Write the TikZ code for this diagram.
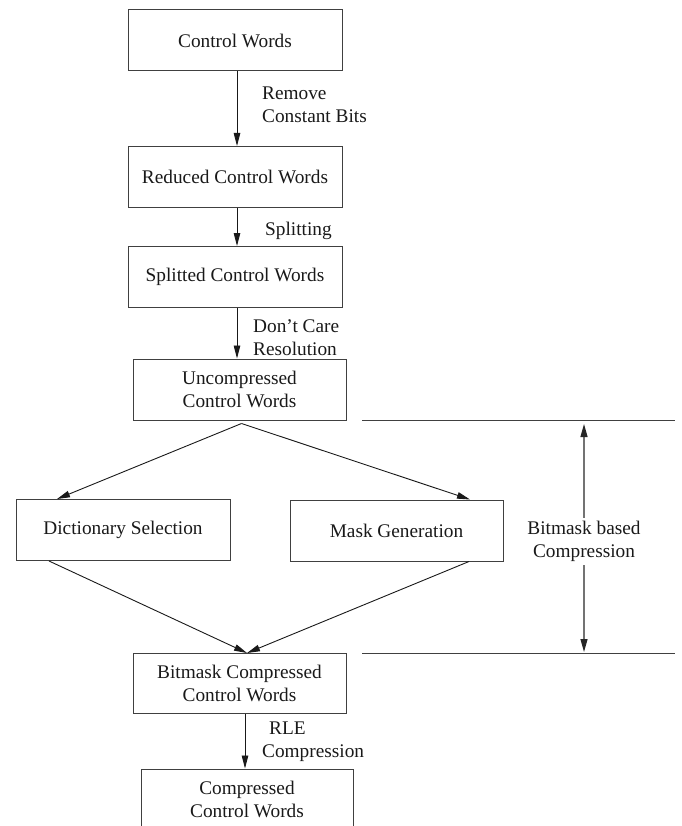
\documentclass[tikz,border=0pt]{standalone}
\usepackage{fontspec}
\setmainfont{Liberation Serif}
\usetikzlibrary{arrows.meta}
\begin{document}
\begin{tikzpicture}[x=1pt,y=-1pt,
  every node/.style={font=\fontsize{19.3}{23}\selectfont, text=black!90},
  box/.style={draw=black!75, line width=1pt, minimum width=214pt, minimum height=61pt,
              inner sep=0pt, align=center, anchor=center},
  lbl/.style={align=left, anchor=west, inner sep=0pt},
  arr/.style={draw=black!90, line width=0.9pt, -{Triangle[length=13pt,width=6.5pt]}},
  rule/.style={draw=black!75, line width=1pt},
  span/.style={draw=black!55, line width=1.2pt, -{Triangle[length=13pt,width=7pt,color=black!85]}}]
  \useasboundingbox (0,0) rectangle (681,826);
  \clip (0,0) rectangle (681,826);

  % processing chain
  \node[box] (cw)   at (235,40.5)  {Control Words};
  \node[box] (rcw)  at (235,177)   {Reduced Control Words};
  \node[box] (scw)  at (235,277)   {Splitted Control Words};
  \node[box, minimum width=213pt] (ucw)  at (239.5,389.5) {Uncompressed\\Control Words};
  \node[box] (dict) at (123,530)   {Dictionary Selection};
  \node[box, minimum width=213pt] (mask) at (396.5,530.5) {Mask Generation};
  \node[box, minimum width=213pt, minimum height=60pt] (bcw) at (239.5,683) {Bitmask Compressed\\Control Words};
  \node[box, minimum width=212pt] (ccw)  at (247,799.5) {Compressed\\Control Words};

  % step labels
  \node[lbl] (l1) at (262,104.5) {Remove\\Constant Bits};
  \node[lbl] (l2) at (265,231)   {Splitting};
  \node[lbl] (l3) at (253,338)   {Don't Care\\Resolution};
  \node[lbl] (l4) at (262,742)   {\hspace{7pt}RLE\\Compression};

  % vertical steps
  \draw[arr] ([xshift=2pt]cw.south)  -- ([xshift=2pt]rcw.north);
  \draw[arr] ([xshift=2pt]rcw.south) -- ([xshift=2pt]scw.north);
  \draw[arr] ([xshift=2pt]scw.south) -- ([xshift=-2.5pt]ucw.north);
  \draw[arr] ([xshift=5.5pt]bcw.south) -- ([xshift=-2pt]ccw.north);

  % branch and merge
  \coordinate (split) at (241.5,423.5);
  \coordinate (merge) at (247,653);
  \draw[arr] (split) -- ([xshift=-66pt]dict.north);
  \draw[arr] (split) -- ([xshift=73.5pt]mask.north);
  \draw[arr] ([xshift=-74pt]dict.south) -- (merge);
  \draw[arr] ([xshift=72.5pt]mask.south) -- (merge);

  % extent of the bitmask stage
  \coordinate (t0) at (362,420);
  \coordinate (t1) at (675,420);
  \coordinate (b0) at (362,653);
  \coordinate (b1) at (675,653);
  \draw[rule] (t0) -- (t1);
  \draw[rule] (b0) -- (b1);
  \node[align=center, inner sep=0pt, minimum height=47pt] (stage) at (584,541.5) {Bitmask based\\Compression};
  \draw[span] (stage.north) -- ([yshift=-4pt]stage.north |- t0);
  \draw[span] (stage.south) -- ([yshift=1pt]stage.south |- b0);
\end{tikzpicture}
\end{document}
